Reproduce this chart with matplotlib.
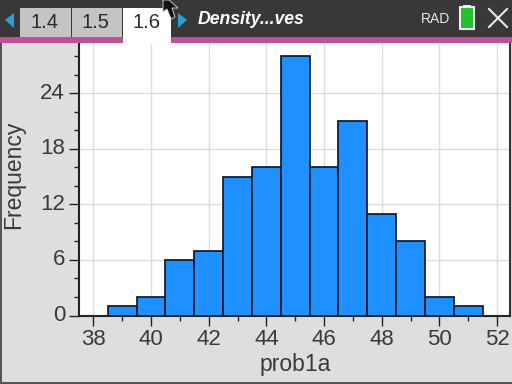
import matplotlib
matplotlib.use('Agg')
import matplotlib.pyplot as plt
from matplotlib.patches import Rectangle, Polygon
from matplotlib.transforms import ScaledTranslation

W, H = 512, 384

bin_centers = [39, 40, 41, 42, 43, 44, 45, 46, 47, 48, 49, 50, 51]
counts = [1, 2, 6, 7, 15, 16, 28, 16, 21, 11, 8, 2, 1]
x_ticks = [38, 40, 42, 44, 46, 48, 50, 52]
x_minor = [39, 41, 43, 45, 47, 49, 51]
y_ticks = [0, 6, 12, 18, 24]
y_minor = [2, 4, 8, 10, 14, 16, 20, 22, 26, 28]
tabs = ['1.4', '1.5', '1.6']

plt.rcParams['font.family'] = ['Liberation Sans', 'DejaVu Sans']

fig = plt.figure(figsize=(W / 100, H / 100), dpi=100, facecolor='#dedede')

# plot area, placed by pixel
left, right, top, bottom = 79, 510, 43, 315.5
ax = fig.add_axes([left / W, 1 - bottom / H, (right - left) / W, (bottom - top) / H])
ax.set_xlim(37.5, 52.45)
ax.set_ylim(0, 29.45)
ax.set_facecolor('white')
ax.grid(True, color='#dcdcdc', lw=1)
ax.set_axisbelow(True)
ax.bar(bin_centers, counts, width=1, color='#1e90ff', edgecolor='#101828', lw=1.25, zorder=3)

ax.set_xticks(x_ticks)
ax.set_yticks(y_ticks)
ax.set_xticks(x_minor, minor=True)
ax.set_yticks(y_minor, minor=True)
ax.tick_params(axis='both', which='major', length=7, width=1, color='#222222',
               labelsize=16, labelcolor='#3a3a3a', pad=3)
ax.tick_params(axis='both', which='minor', length=3.5, width=1, color='#222222')
ax.tick_params(axis='x', which='major', pad=3)
ax.spines['top'].set_visible(False)
ax.spines['left'].set_linewidth(1.5)
ax.spines['left'].set_color('#222222')
ax.spines['bottom'].set_linewidth(1.5)
ax.spines['bottom'].set_color('#222222')
ax.spines['right'].set_linewidth(1.5)
ax.spines['right'].set_color('#333333')

# the y labels sit a little above their ticks on the handheld
up = ScaledTranslation(0, 2 / 72, fig.dpi_scale_trans)
for lab in ax.get_yticklabels():
    lab.set_transform(lab.get_transform() + up)

# overlay for the handheld window, in pixels
ui = fig.add_axes([0, 0, 1, 1], facecolor='none', zorder=5)
ui.set_xlim(0, W)
ui.set_ylim(H, 0)
ui.axis('off')

ui.text(295, 365, 'prob1a', fontsize=16.5, color='#3a3a3a', ha='center', va='center')
ui.text(14, 175, 'Frequency', fontsize=16.5, color='#3a3a3a', rotation=90, ha='center', va='center')

ui.add_patch(Rectangle((0, 0), W, 37, color='#383838', lw=0))
ui.add_patch(Rectangle((0, 37), W, 6, color='#c04f98', lw=0))
ui.add_patch(Rectangle((0, 43), 1.5, H - 43, color='#555555', lw=0))
ui.add_patch(Rectangle((0, H - 2), W, 2, color='#555555', lw=0))

ui.add_patch(Rectangle((20, 8), 51, 29, color='#c4c4c4', lw=0))
ui.add_patch(Rectangle((72, 8), 50, 29, color='#c4c4c4', lw=0))
ui.add_patch(Rectangle((123, 8), 48, 36, color='white', lw=0))
for label, xc in zip(tabs, [44, 95, 146]):
    ui.text(xc, 22, label, fontsize=14.5, color='#2a2a2a', ha='center', va='center')

ui.add_patch(Polygon([[14, 13], [5, 20], [14, 28]], color='#2a9fd6', lw=0))
ui.add_patch(Polygon([[178, 13], [187, 20], [178, 28]], color='#2a9fd6', lw=0))

ui.text(198, 19, 'Density...ves', fontsize=12.7, color='white', style='italic',
        weight='bold', ha='left', va='center')
ui.text(435, 19, 'RAD', fontsize=10, color='#e8e8e8', ha='center', va='center')

# battery
ui.add_patch(Rectangle((460, 7), 14, 22, fc='#22c22e', ec='#f0f0f0', lw=1.5))
ui.add_patch(Rectangle((463, 5), 8, 2, color='#f0f0f0', lw=0))
# close
ui.plot([489, 507], [9, 27], color='#e8e8e8', lw=1.5)
ui.plot([507, 489], [9, 27], color='#e8e8e8', lw=1.5)
# mouse pointer
ui.add_patch(Polygon([[163, 0], [163, 12], [167, 9], [171, 19], [175, 17], [172, 8], [178, 8], [169, 0]],
                     fc='#111111', ec='#dddddd', lw=0.6))

fig.savefig('out.png', dpi=100, facecolor=fig.get_facecolor())
